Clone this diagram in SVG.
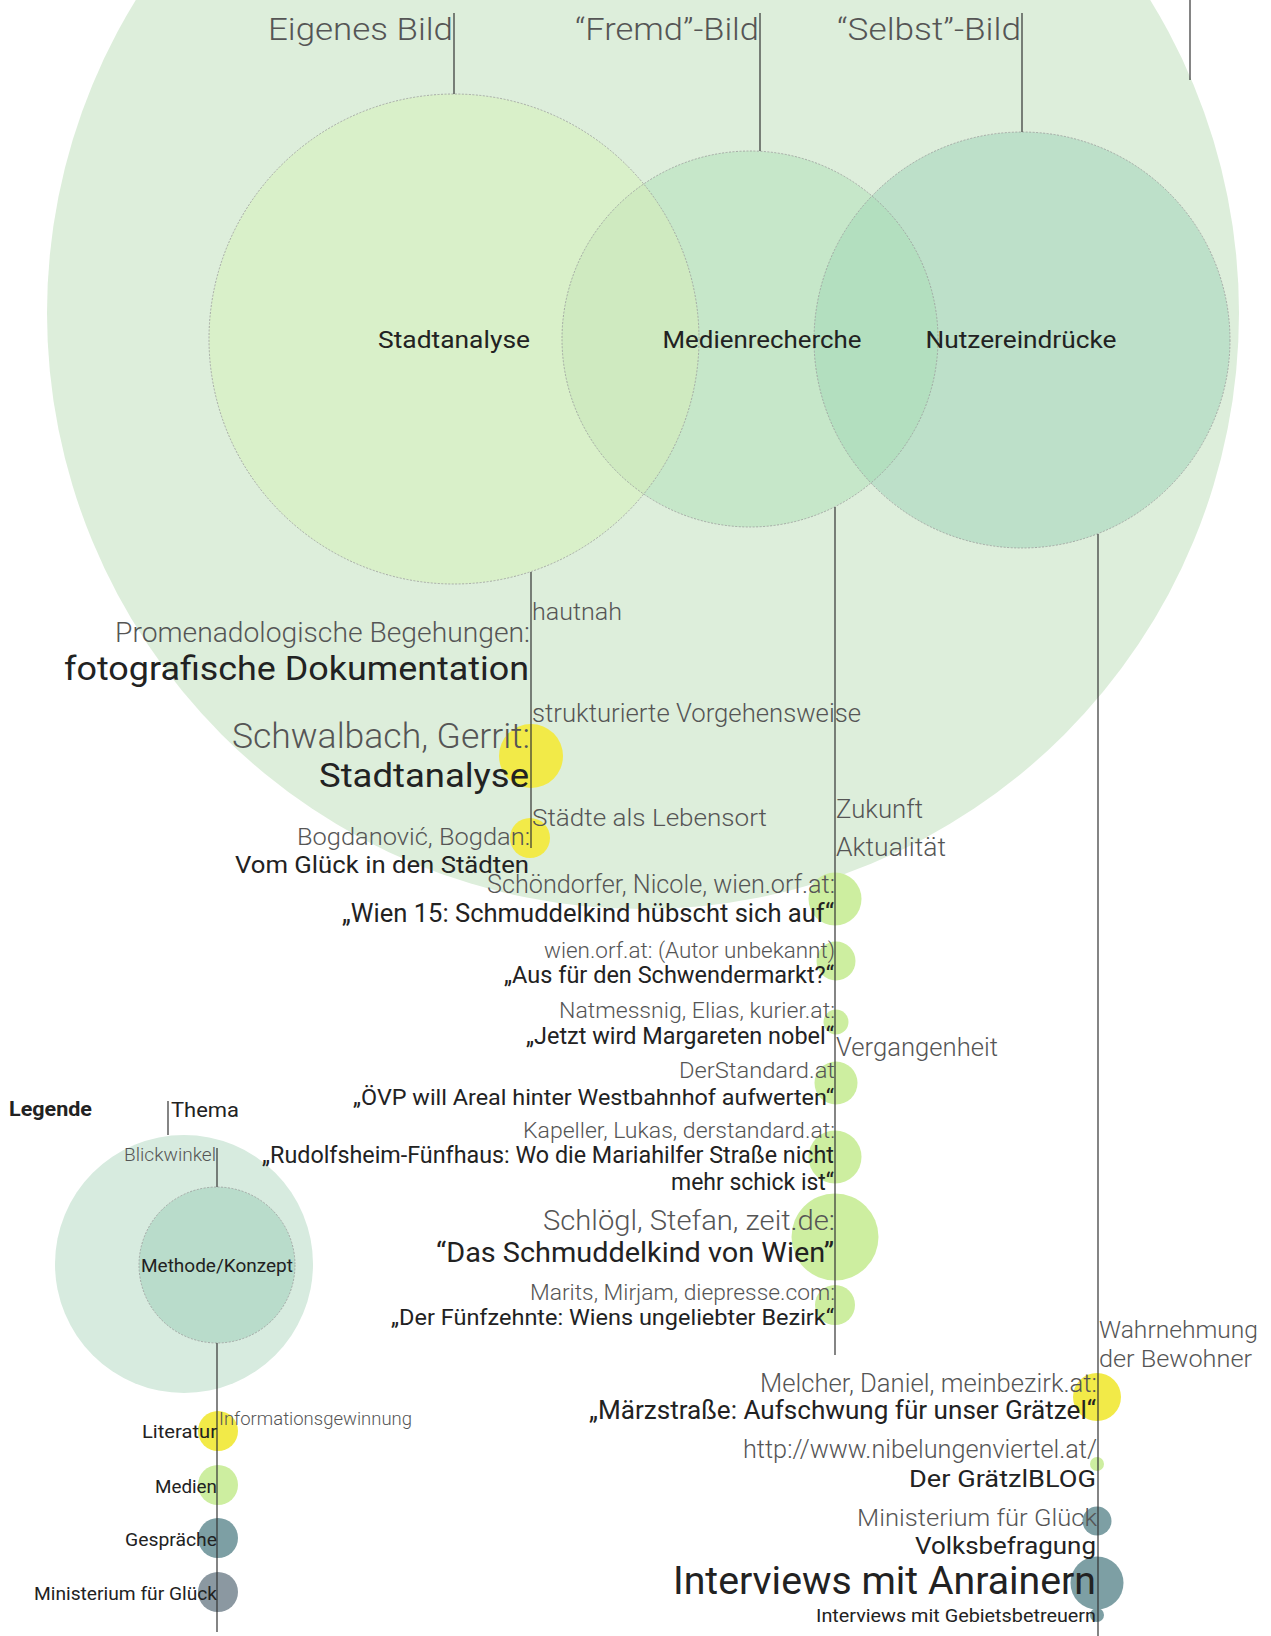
<svg xmlns="http://www.w3.org/2000/svg" width="1271" height="1636" viewBox="0 0 1271 1636">
<style>
text{font-family:Roboto,"Open Sans","Liberation Sans",sans-serif}
.l{font-weight:300;fill:#555}
.m{font-weight:400;fill:#222}
.b{font-weight:700;fill:#222}
.e{text-anchor:end}
.c{text-anchor:middle}
.ln{stroke:#333;stroke-width:1.2;fill:none}
.dash{fill:none;stroke:#9a9a9a;stroke-width:0.8;stroke-dasharray:2 1.5}
.lit{fill:#f2ea48}
.med{fill:#cdeea0}
.ges{fill:#7d9fa4}
.min{fill:#8b98a1}
</style>
<defs>
<clipPath id="cpStadt"><circle cx="454" cy="339" r="245"/></clipPath>
<clipPath id="cpNutzer"><circle cx="1022" cy="340" r="208"/></clipPath>
</defs>

<g id="thema-circle">
<circle cx="643" cy="313" r="596" fill="#ddeedb"/>
</g>

<g id="stadtanalyse">
<circle cx="454" cy="339" r="245" fill="#d9f0c9"/>
</g>
<g id="medienrecherche">
<circle cx="750" cy="339" r="188" fill="#c6e7c9"/>
<circle cx="750" cy="339" r="188" fill="#cfeac0" clip-path="url(#cpStadt)"/>
</g>
<g id="nutzereindruecke">
<circle cx="1022" cy="340" r="208" fill="#bde0c9"/>
<circle cx="750" cy="339" r="188" fill="#b3dfbf" clip-path="url(#cpNutzer)"/>
</g>
<g id="outlines">
<circle class="dash" cx="454" cy="339" r="245"/>
<circle class="dash" cx="750" cy="339" r="188"/>
<circle class="dash" cx="1022" cy="340" r="208"/>
</g>

<g id="dots">
<circle class="lit" cx="531" cy="756" r="32"/>
<circle class="lit" cx="530" cy="838" r="20"/>
<circle class="med" cx="835" cy="899" r="26.5"/>
<circle class="med" cx="836" cy="961" r="19.5"/>
<circle class="med" cx="836" cy="1022" r="12.5"/>
<circle class="med" cx="836" cy="1083" r="21.5"/>
<circle class="med" cx="835" cy="1157" r="26.5"/>
<circle class="med" cx="835" cy="1237" r="43.5"/>
<circle class="med" cx="835" cy="1305" r="20"/>
<circle class="lit" cx="1097" cy="1397" r="24"/>
<circle class="med" cx="1097" cy="1464" r="7"/>
<circle class="ges" cx="1097" cy="1521" r="14.5"/>
<circle class="ges" cx="1097" cy="1583" r="26.5"/>
<circle class="ges" cx="1097" cy="1615" r="7"/>
</g>

<g id="legend">
<circle cx="184" cy="1264" r="129" fill="#d7ebdf"/>
<circle cx="217" cy="1265" r="78" fill="#b9dccb"/>
<circle class="dash" cx="217" cy="1265" r="78"/>
<circle class="lit" cx="218" cy="1431" r="20"/>
<circle class="med" cx="218" cy="1485" r="20"/>
<circle class="ges" cx="218" cy="1538" r="20"/>
<circle class="min" cx="218" cy="1592" r="20"/>
</g>

<g id="connectors">
<line class="ln" x1="454" y1="13" x2="454" y2="94"/>
<line class="ln" x1="760" y1="13" x2="760" y2="151"/>
<line class="ln" x1="1022" y1="13" x2="1022" y2="132"/>
<line class="ln" x1="1190" y1="0" x2="1190" y2="80"/>
<line class="ln" x1="531" y1="572" x2="531" y2="848"/>
<line class="ln" x1="835" y1="507" x2="835" y2="1355"/>
<line class="ln" x1="1098" y1="534" x2="1098" y2="1636"/>
<line class="ln" x1="168" y1="1101" x2="168" y2="1135"/>
<line class="ln" x1="217" y1="1148" x2="217" y2="1187"/>
<line class="ln" x1="217" y1="1343" x2="217" y2="1632"/>
</g>

<g id="labels-top">
<text class="l e" x="453" y="40" font-size="32" textLength="185" lengthAdjust="spacingAndGlyphs">Eigenes Bild</text>
<text class="l e" x="759" y="40" font-size="32" textLength="184" lengthAdjust="spacingAndGlyphs">“Fremd”-Bild</text>
<text class="l e" x="1021" y="40" font-size="32" textLength="184" lengthAdjust="spacingAndGlyphs">“Selbst”-Bild</text>
<text class="m c" x="454" y="348" font-size="23" textLength="152" lengthAdjust="spacingAndGlyphs">Stadtanalyse</text>
<text class="m c" x="762" y="348" font-size="23" textLength="199" lengthAdjust="spacingAndGlyphs">Medienrecherche</text>
<text class="m c" x="1021" y="348" font-size="23" textLength="191" lengthAdjust="spacingAndGlyphs">Nutzereindrücke</text>
</g>

<g id="stadtanalyse-sources">
<text class="l" x="532" y="620" font-size="24" textLength="90" lengthAdjust="spacingAndGlyphs">hautnah</text>
<text class="l e" x="530" y="642" font-size="27" textLength="415" lengthAdjust="spacingAndGlyphs">Promenadologische Begehungen:</text>
<text class="m e" x="529" y="680" font-size="33" textLength="465" lengthAdjust="spacingAndGlyphs">fotografische Dokumentation</text>
<text class="l" x="532" y="722" font-size="25" textLength="329" lengthAdjust="spacingAndGlyphs">strukturierte Vorgehensweise</text>
<text class="l e" x="530" y="748" font-size="35" textLength="298" lengthAdjust="spacingAndGlyphs">Schwalbach, Gerrit:</text>
<text class="m e" x="529" y="787" font-size="33" textLength="210" lengthAdjust="spacingAndGlyphs">Stadtanalyse</text>
<text class="l" x="532" y="826" font-size="24" textLength="235" lengthAdjust="spacingAndGlyphs">Städte als Lebensort</text>
<text class="l e" x="530" y="845" font-size="24" textLength="233" lengthAdjust="spacingAndGlyphs">Bogdanović, Bogdan:</text>
<text class="m e" x="529" y="873" font-size="24" textLength="294" lengthAdjust="spacingAndGlyphs">Vom Glück in den Städten</text>
</g>

<g id="medien-sources">
<text class="l" x="836" y="818" font-size="25" textLength="87" lengthAdjust="spacingAndGlyphs">Zukunft</text>
<text class="l" x="836" y="856" font-size="25" textLength="110" lengthAdjust="spacingAndGlyphs">Aktualität</text>
<text class="l e" x="835" y="893" font-size="25" textLength="348" lengthAdjust="spacingAndGlyphs">Schöndorfer, Nicole, wien.orf.at:</text>
<text class="m e" x="834" y="922" font-size="25" textLength="492" lengthAdjust="spacingAndGlyphs">„Wien 15: Schmuddelkind hübscht sich auf“</text>
<text class="l e" x="835" y="958" font-size="22" textLength="291" lengthAdjust="spacingAndGlyphs">wien.orf.at: (Autor unbekannt)</text>
<text class="m e" x="834" y="983" font-size="23" textLength="330" lengthAdjust="spacingAndGlyphs">„Aus für den Schwendermarkt?“</text>
<text class="l e" x="835" y="1018" font-size="22" textLength="276" lengthAdjust="spacingAndGlyphs">Natmessnig, Elias, kurier.at:</text>
<text class="m e" x="834" y="1044" font-size="23" textLength="308" lengthAdjust="spacingAndGlyphs">„Jetzt wird Margareten nobel“</text>
<text class="l" x="836" y="1056" font-size="25" textLength="162" lengthAdjust="spacingAndGlyphs">Vergangenheit</text>
<text class="l e" x="835" y="1078" font-size="22" textLength="156" lengthAdjust="spacingAndGlyphs">DerStandard.at</text>
<text class="m e" x="834" y="1105" font-size="22" textLength="481" lengthAdjust="spacingAndGlyphs">„ÖVP will Areal hinter Westbahnhof aufwerten“</text>
<text class="l e" x="835" y="1138" font-size="22" textLength="312" lengthAdjust="spacingAndGlyphs">Kapeller, Lukas, derstandard.at:</text>
<text class="m e" x="834" y="1163" font-size="23" textLength="572" lengthAdjust="spacingAndGlyphs">„Rudolfsheim-Fünfhaus: Wo die Mariahilfer Straße nicht</text>
<text class="m e" x="834" y="1190" font-size="23" textLength="163" lengthAdjust="spacingAndGlyphs">mehr schick ist“</text>
<text class="l e" x="835" y="1230" font-size="28" textLength="292" lengthAdjust="spacingAndGlyphs">Schlögl, Stefan, zeit.de:</text>
<text class="m e" x="834" y="1262" font-size="28" textLength="398" lengthAdjust="spacingAndGlyphs">“Das Schmuddelkind von Wien”</text>
<text class="l e" x="835" y="1300" font-size="22" textLength="305" lengthAdjust="spacingAndGlyphs">Marits, Mirjam, diepresse.com:</text>
<text class="m e" x="834" y="1325" font-size="22" textLength="443" lengthAdjust="spacingAndGlyphs">„Der Fünfzehnte: Wiens ungeliebter Bezirk“</text>
</g>

<g id="nutzer-sources">
<text class="l" x="1099" y="1338" font-size="24" textLength="159" lengthAdjust="spacingAndGlyphs">Wahrnehmung</text>
<text class="l" x="1099" y="1367" font-size="24" textLength="153" lengthAdjust="spacingAndGlyphs">der Bewohner</text>
<text class="l e" x="1097" y="1392" font-size="25" textLength="337" lengthAdjust="spacingAndGlyphs">Melcher, Daniel, meinbezirk.at:</text>
<text class="m e" x="1096" y="1419" font-size="25" textLength="507" lengthAdjust="spacingAndGlyphs">„Märzstraße: Aufschwung für unser Grätzel“</text>
<text class="l e" x="1097" y="1458" font-size="25" textLength="354" lengthAdjust="spacingAndGlyphs">http://www.nibelungenviertel.at/</text>
<text class="m e" x="1096" y="1487" font-size="24" textLength="187" lengthAdjust="spacingAndGlyphs">Der GrätzlBLOG</text>
<text class="l e" x="1097" y="1526" font-size="24" textLength="240" lengthAdjust="spacingAndGlyphs">Ministerium für Glück</text>
<text class="m e" x="1096" y="1554" font-size="24" textLength="181" lengthAdjust="spacingAndGlyphs">Volksbefragung</text>
<text class="m e" x="1096" y="1594" font-size="38" textLength="423" lengthAdjust="spacingAndGlyphs">Interviews mit Anrainern</text>
<text class="m e" x="1096" y="1622" font-size="18" textLength="280" lengthAdjust="spacingAndGlyphs">Interviews mit Gebietsbetreuern</text>
</g>

<g id="legend-labels">
<text class="b" x="9" y="1116" font-size="20" textLength="83" lengthAdjust="spacingAndGlyphs">Legende</text>
<text class="m" x="171" y="1117" font-size="21" textLength="68" lengthAdjust="spacingAndGlyphs">Thema</text>
<text class="l e" x="216" y="1161" font-size="18" textLength="92" lengthAdjust="spacingAndGlyphs">Blickwinkel</text>
<text class="m c" x="217" y="1272" font-size="18" textLength="152" lengthAdjust="spacingAndGlyphs">Methode/Konzept</text>
<text class="l" x="219" y="1425" font-size="18" textLength="193" lengthAdjust="spacingAndGlyphs">Informationsgewinnung</text>
<text class="m e" x="217" y="1438" font-size="18" textLength="75" lengthAdjust="spacingAndGlyphs">Literatur</text>
<text class="m e" x="217" y="1493" font-size="18" textLength="62" lengthAdjust="spacingAndGlyphs">Medien</text>
<text class="m e" x="217" y="1546" font-size="18" textLength="92" lengthAdjust="spacingAndGlyphs">Gespräche</text>
<text class="m e" x="217" y="1600" font-size="18" textLength="183" lengthAdjust="spacingAndGlyphs">Ministerium für Glück</text>
</g>
</svg>
